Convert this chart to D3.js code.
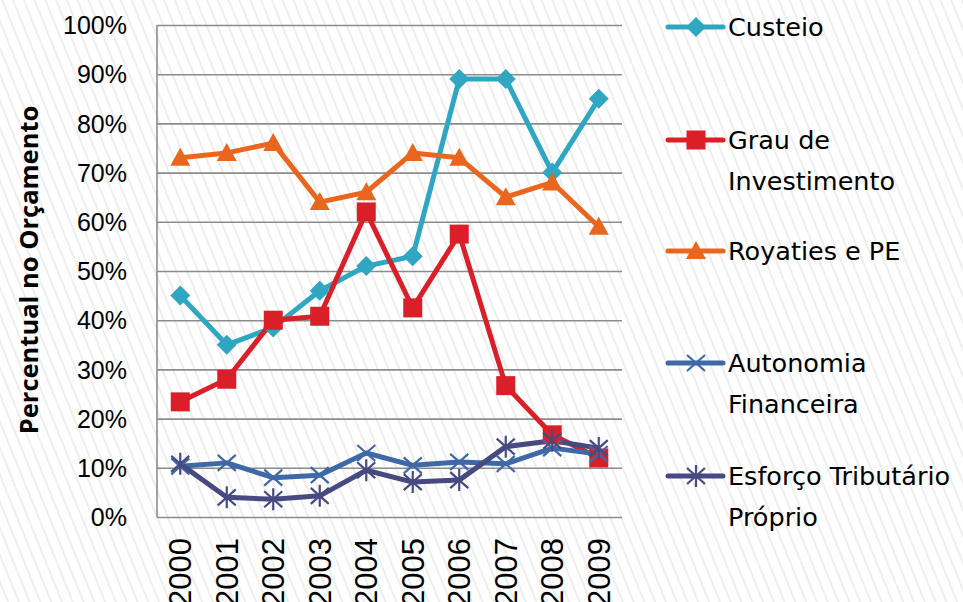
<!DOCTYPE html>
<html>
<head>
<meta charset="utf-8">
<script src="https://cdn.jsdelivr.net/npm/d3@7"></script>
<style>
  body { margin: 0; background: #fff; }
  svg text { font-family: "DejaVu Sans", Verdana, sans-serif; fill: #000; }
</style>
</head>
<body>
<div id="chart"></div>
<script>
var anos = ["2000","2001","2002","2003","2004","2005","2006","2007","2008","2009"];
var yTicks = [0, 10, 20, 30, 40, 50, 60, 70, 80, 90, 100];

var custeio      = [45, 35, 38.5, 46, 51, 53, 89, 89, 70, 85];
var grauInvest   = [23.4, 28, 40, 40.8, 62, 42.5, 57.5, 26.7, 16.7, 12];
var royalties    = [73, 74, 76, 64, 66, 74, 73, 65, 68, 59];
var autonomia    = [10.3, 11, 8, 8.5, 13, 10.5, 11.2, 10.8, 14, 12.8];
var esforco      = [10.8, 4, 3.6, 4.3, 9.5, 7.1, 7.5, 14.3, 15.5, 14];

var series = [
  {nome: ["Custeio"], valores: custeio, cor: "#2fa6c2", marca: "diamond", ly: 27},
  {nome: ["Grau de", "Investimento"], valores: grauInvest, cor: "#db1f29", marca: "square", ly: 140},
  {nome: ["Royaties e PE"], valores: royalties, cor: "#ea661f", marca: "triangle", ly: 251},
  {nome: ["Autonomia", "Financeira"], valores: autonomia, cor: "#3e69a6", marca: "x", ly: 363},
  {nome: ["Esforço Tributário", "Próprio"], valores: esforco, cor: "#474a80", marca: "star", ly: 476}
];

var width = 963, height = 602;
var margin = {top: 25, right: 341, bottom: 85, left: 157};
var w = width - margin.left - margin.right,
    h = height - margin.top - margin.bottom;

var svg = d3.select("#chart")
    .append("svg")
    .attr("width", width)
    .attr("height", height);

// fundo hachurado
var defs = svg.append("defs");
var pat = defs.append("pattern")
    .attr("id", "hatch")
    .attr("patternUnits", "userSpaceOnUse")
    .attr("width", 10)
    .attr("height", 10)
    .attr("patternTransform", "rotate(-22)");
pat.append("rect").attr("width", 10).attr("height", 10).attr("fill", "#fff");
pat.append("line")
    .attr("x1", 2).attr("y1", 0).attr("x2", 2).attr("y2", 10)
    .attr("stroke", "#e4e4e4").attr("stroke-width", 1.2);

svg.append("rect")
    .attr("width", width).attr("height", height)
    .attr("fill", "url(#hatch)");

var x = d3.scaleBand().domain(anos).range([0, w]);
var y = d3.scaleLinear().domain([0, 100]).range([h, 0]);

var g = svg.append("g")
    .attr("transform", "translate(" + margin.left + "," + margin.top + ")");

// grade
var yAxis = d3.axisLeft(y)
    .tickValues(yTicks)
    .tickSize(-w)
    .tickPadding(30)
    .tickFormat(function(d){ return d + "%"; });

var gy = g.append("g").attr("class", "y axis").call(yAxis);
gy.select(".domain").remove();
gy.selectAll("line")
    .attr("stroke", "#8c8c8c")
    .attr("stroke-width", 1.6);
gy.selectAll("text")
    .style("font-family", "'Liberation Sans', Arial, sans-serif")
    .style("font-size", "25px")
    .attr("dy", "0.35em");

g.append("line")
    .attr("x1", 0).attr("x2", 0)
    .attr("y1", 0).attr("y2", h)
    .attr("stroke", "#8c8c8c").attr("stroke-width", 1.6);

// eixo x
var xAxis = d3.axisBottom(x).tickSize(0).tickPadding(0);
var gx = g.append("g")
    .attr("class", "x axis")
    .attr("transform", "translate(0," + h + ")")
    .call(xAxis);
gx.select(".domain").remove();
gx.selectAll("text")
    .style("text-anchor", "end")
    .style("font-family", "'Liberation Sans', Arial, sans-serif")
    .style("font-size", "31px")
    .attr("dx", "-21px")
    .attr("dy", "0.36em")
    .attr("transform", "rotate(-90)");

// titulo do eixo y
svg.append("text")
    .attr("transform", "translate(29," + 270 + ") rotate(-90)")
    .attr("text-anchor", "middle")
    .attr("dy", "0.35em")
    .style("font-family", "'Open Sans', sans-serif")
    .style("font-weight", "bold")
    .style("font-size", "25.5px")
    .text("Percentual no Orçamento");

function marcador(sel, tipo, cor) {
  if (tipo === "diamond") {
    sel.append("path").attr("d", "M0,-10L10,0L0,10L-10,0Z").attr("fill", cor);
  } else if (tipo === "square") {
    sel.append("rect").attr("x", -9.5).attr("y", -9.5).attr("width", 19).attr("height", 19).attr("fill", cor);
  } else if (tipo === "triangle") {
    sel.append("path").attr("d", "M0,-10L10,8L-10,8Z").attr("fill", cor);
  } else if (tipo === "x") {
    sel.append("path").attr("d", "M-9,-8L9,8M-9,8L9,-8")
        .attr("stroke", cor).attr("stroke-width", 2.2).attr("fill", "none");
  } else if (tipo === "star") {
    sel.append("path").attr("d", "M-9,-8L9,8M-9,8L9,-8M0,-11L0,11")
        .attr("stroke", cor).attr("stroke-width", 2.2).attr("fill", "none");
  }
}

var linha = d3.line()
    .x(function(d, i){ return x(anos[i]) + x.bandwidth() / 2; })
    .y(function(d){ return y(d); });

series.forEach(function(s) {
  g.append("path")
      .attr("class", "line")
      .attr("d", linha(s.valores))
      .attr("fill", "none")
      .attr("stroke", s.cor)
      .attr("stroke-width", 5)
      .attr("stroke-linejoin", "round");
});

series.forEach(function(s) {
  s.valores.forEach(function(v, i) {
    var m = g.append("g")
        .attr("transform", "translate(" + (x(anos[i]) + x.bandwidth() / 2) + "," + y(v) + ")");
    marcador(m, s.marca, s.cor);
  });
});

// legenda
var leg = svg.append("g").attr("class", "legend");
series.forEach(function(s) {
  var item = leg.append("g").attr("transform", "translate(668," + s.ly + ")");
  item.append("line")
      .attr("x1", 0).attr("x2", 55)
      .attr("stroke", s.cor).attr("stroke-width", 5)
      .attr("stroke-linecap", "round");
  var mk = item.append("g").attr("transform", "translate(28,0)");
  marcador(mk, s.marca, s.cor);
  s.nome.forEach(function(t, j) {
    item.append("text")
        .attr("x", 60)
        .attr("y", j * 41)
        .attr("dy", "0.35em")
        .style("font-size", "25.5px")
        .text(t);
  });
});
</script>
</body>
</html>
